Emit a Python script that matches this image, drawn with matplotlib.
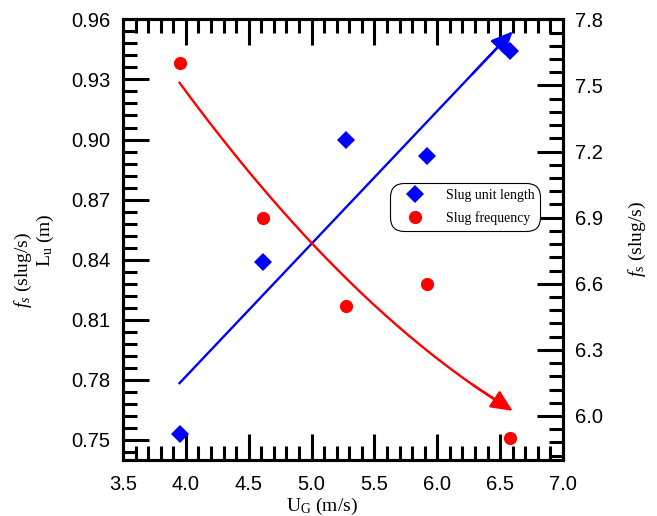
import numpy as np
import matplotlib
matplotlib.use('Agg')
import matplotlib.pyplot as plt
from matplotlib.ticker import MultipleLocator, FormatStrFormatter
from matplotlib.lines import Line2D

# gas velocity U_G (m/s)
ug = [3.95, 4.61, 5.27, 5.92, 6.58]
# slug unit length L_u (m), left axis
slug_length = [0.753, 0.839, 0.900, 0.892, 0.944]
# slug frequency f_s (slug/s), right axis
slug_freq = [7.60, 6.90, 6.50, 6.60, 5.90]

plt.rcParams['font.family'] = ['Liberation Sans', 'DejaVu Sans']
plt.rcParams['mathtext.fontset'] = 'custom'
plt.rcParams['mathtext.rm'] = 'Liberation Serif'
plt.rcParams['mathtext.it'] = 'Liberation Serif:italic'

serif = ['Liberation Serif', 'DejaVu Serif']
blue = '#0000ff'
red = '#ff0000'

fig = plt.figure(figsize=(6.57, 5.16), dpi=100)
ax = fig.add_axes([0.1872, 0.1085, 0.6697, 0.854])
ax2 = ax.twinx()

# trend lines: linear for length, quadratic for frequency
x_fit = np.linspace(ug[0], 6.6, 200)
len_fit = np.polyval(np.polyfit(ug, slug_length, 1), x_fit)
freq_fit = np.polyval(np.polyfit(ug, slug_freq, 2), x_fit)

ax.plot(x_fit[:-10], len_fit[:-10], color=blue, lw=1.7, zorder=2)
ax2.plot(x_fit[:-10], freq_fit[:-10], color=red, lw=1.7, zorder=2)
head = '-|>,head_length=0.55,head_width=0.25'
ax.annotate('', xy=(x_fit[-1], len_fit[-1]), xytext=(x_fit[-25], len_fit[-25]),
            arrowprops=dict(arrowstyle=head, color=blue, lw=1.7,
                            mutation_scale=24, shrinkA=0, shrinkB=0))
ax2.annotate('', xy=(x_fit[-1], freq_fit[-1]), xytext=(x_fit[-25], freq_fit[-25]),
             arrowprops=dict(arrowstyle=head, color=red, lw=1.7,
                             mutation_scale=24, shrinkA=0, shrinkB=0))

ax.plot(ug, slug_length, 'D', color=blue, ms=9.2, mew=0, zorder=3)
ax2.plot(ug, slug_freq, 'o', color=red, ms=9.5, mew=0, zorder=3)

ax.set_xlim(3.5, 7.0)
ax.set_ylim(0.74, 0.96)
ax2.set_ylim(5.8, 7.8)

ax.xaxis.set_major_locator(MultipleLocator(0.5))
ax.xaxis.set_minor_locator(MultipleLocator(0.1))
ax.yaxis.set_major_locator(MultipleLocator(0.03))
ax.yaxis.set_minor_locator(MultipleLocator(0.006))
ax2.yaxis.set_major_locator(MultipleLocator(0.3))
ax2.yaxis.set_minor_locator(MultipleLocator(0.06))
ax.xaxis.set_major_formatter(FormatStrFormatter('%.1f'))
ax.yaxis.set_major_formatter(FormatStrFormatter('%.2f'))
ax2.yaxis.set_major_formatter(FormatStrFormatter('%.1f'))

for a in (ax, ax2):
    for s in a.spines.values():
        s.set_linewidth(2.2)
ax.tick_params(which='both', direction='in', width=2.2, top=True, right=False,
               labelsize=14.5, pad=9)
ax.tick_params(which='major', length=19)
ax.tick_params(which='minor', length=10)
ax.tick_params(axis='x', pad=11)
ax2.tick_params(which='both', direction='in', width=2.2, labelsize=14.5, pad=9)
ax2.tick_params(which='major', length=19)
ax2.tick_params(which='minor', length=10)

# axis titles
fig.text(322 / 657, 1 - 511 / 516, r'U$_\mathrm{G}$ (m/s)', family=serif,
         fontsize=14, ha='center', va='baseline')
fig.text(23 / 657, 1 - 270 / 516, r'$f_s$ (slug/s)', family=serif,
         fontsize=14, rotation=90, ha='center', va='center')
fig.text(45 / 657, 1 - 240 / 516, r'L$_\mathrm{u}$ (m)', family=serif,
         fontsize=14, rotation=90, ha='center', va='center')
fig.text(637 / 657, 1 - 239 / 516, r'$f_\mathrm{s}$ (slug/s)', family=serif,
         fontsize=14, rotation=90, ha='center', va='center')

handles = [Line2D([], [], ls='', marker='D', color=blue, ms=9.2, mew=0),
           Line2D([], [], ls='', marker='o', color=red, ms=9.5, mew=0)]
leg = ax2.legend(handles, ['Slug unit length', 'Slug frequency'],
                 loc='upper left', bbox_to_anchor=((390 - 123) / 440, 1 - (183 - 19.3) / 440.7),
                 borderaxespad=0, prop={'family': serif, 'size': 10}, framealpha=1,
                 edgecolor='black', handlelength=2.8, handletextpad=0.83,
                 borderpad=0.4, labelspacing=0.7)
leg.get_frame().set_linewidth(0.8)
leg.get_frame().set_boxstyle('round,pad=0,rounding_size=1.0')

fig.savefig('out.png', dpi=100)
